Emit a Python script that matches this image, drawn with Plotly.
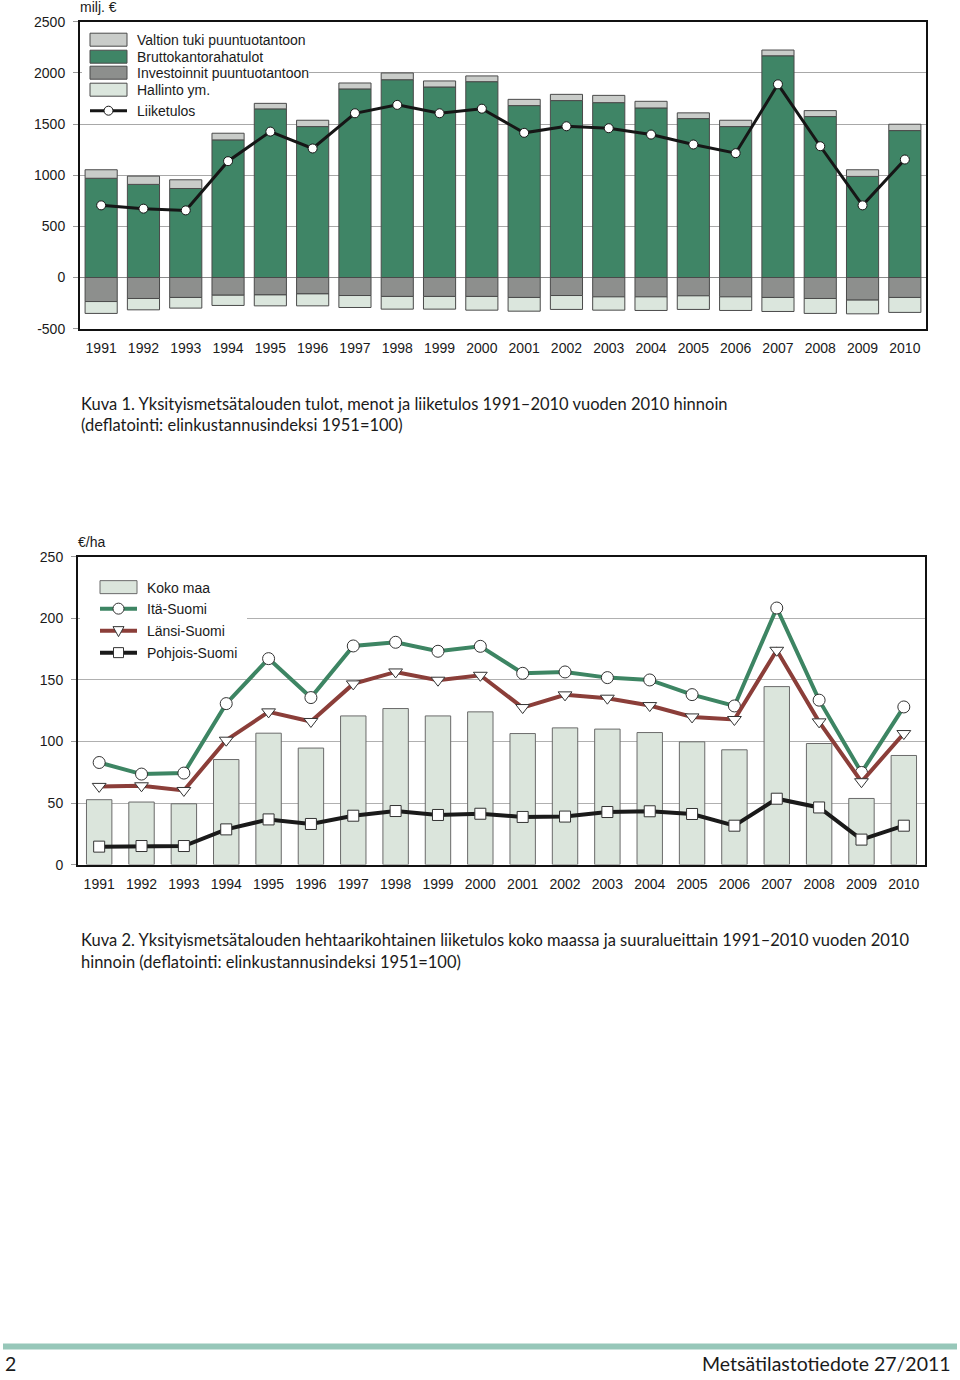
import plotly.graph_objects as go

# ---------------- data ----------------
years = [str(y) for y in range(1991, 2011)]

# Kuva 1 (milj. €)
valtion_tuki = [83, 81, 85, 65, 54, 62, 58, 66, 59, 56, 61, 61, 71, 65, 56, 62, 56, 58, 65, 62]
brutto = [970, 910, 870, 1345, 1648, 1475, 1843, 1933, 1862, 1914, 1680, 1729, 1709, 1657, 1553, 1475, 2167, 1573, 988, 1436]
investoinnit = [-235, -205, -195, -173, -170, -160, -176, -185, -185, -185, -195, -176, -189, -189, -179, -189, -195, -205, -221, -195]
hallinto = [-116, -111, -104, -100, -107, -117, -117, -124, -124, -134, -134, -136, -130, -133, -133, -133, -137, -146, -134, -146]
liiketulos = [705, 673, 656, 1137, 1426, 1261, 1605, 1687, 1605, 1650, 1414, 1478, 1459, 1397, 1300, 1215, 1888, 1283, 705, 1153]
y1_ticks = [-500, 0, 500, 1000, 1500, 2000, 2500]
y1_ticktext = ["-500", "0", "500", "1000", "1500", "2000", "2500"]

# Kuva 2 (€/ha)
koko_maa = [52.7, 50.8, 49.4, 85.3, 106.7, 94.6, 120.7, 126.7, 120.7, 124.0, 106.4, 111.0, 110.0, 107.2, 99.7, 93.2, 144.5, 98.3, 53.7, 88.6]
ita_suomi = [82.9, 73.5, 74.3, 130.7, 167.2, 135.6, 177.5, 180.5, 173.2, 177.2, 155.3, 156.4, 151.8, 149.9, 138.0, 128.8, 208.3, 133.5, 74.8, 128.0]
lansi_suomi = [63.5, 64.0, 60.2, 101.0, 124.0, 116.2, 146.7, 156.4, 149.7, 153.7, 127.5, 137.8, 135.1, 129.1, 119.9, 117.8, 174.0, 115.9, 67.3, 106.4]
pohjois_suomi = [14.6, 15.1, 15.1, 28.6, 36.7, 33.0, 39.7, 43.5, 40.3, 41.3, 38.7, 39.0, 42.7, 43.3, 41.1, 31.6, 53.5, 46.4, 20.3, 31.6]
y2_ticks = [0, 50, 100, 150, 200, 250]

legend1 = ["Valtion tuki puuntuotantoon", "Bruttokantorahatulot", "Investoinnit puuntuotantoon", "Hallinto ym.", "Liiketulos"]
legend2 = ["Koko maa", "Itä-Suomi", "Länsi-Suomi", "Pohjois-Suomi"]

# ---------------- styles ----------------
W, H = 960, 1380
SANS = "Liberation Sans, Arial, sans-serif"
HUMAN = "Lato, Open Sans, sans-serif"
C_TUKI = "#c9ccc9"
C_BRUTTO = "#3f8566"
C_INV = "#8d8f8d"
C_HALL = "#dbe6dd"
C_OUT = "#4a4a4a"
C_KOKO = "#dbe5dc"
C_ITA = "#3d8563"
C_LANSI = "#8b3e39"
C_POHJ = "#1a1a1a"
TICK_SIZE = 14
LEG_SIZE = 14

# vertical correction for the capture (observed: shown_y ~= 7.3 + 0.9885 * page_y)
V_OFF, V_SCALE = 7.3, 0.9885

# plot boxes in reference pixels (left, right, top, bottom)
BOX1 = (80, 926, 21, 328)
BOX2 = (78, 925, 556, 864)


def px(x):
    return x / W


def py(y):
    yy = (y - V_OFF) / V_SCALE
    return 1 - yy / H


fig = go.Figure()

# ---- chart 1 ----
bar_line = dict(color=C_OUT, width=1)
fig.add_trace(go.Bar(x=years, y=brutto, name=legend1[1], marker=dict(color=C_BRUTTO, line=bar_line),
                     xaxis="x", yaxis="y", showlegend=False))
fig.add_trace(go.Bar(x=years, y=valtion_tuki, name=legend1[0], marker=dict(color=C_TUKI, line=bar_line),
                     xaxis="x", yaxis="y", showlegend=False))
fig.add_trace(go.Bar(x=years, y=investoinnit, name=legend1[2], marker=dict(color=C_INV, line=bar_line),
                     xaxis="x", yaxis="y", showlegend=False))
fig.add_trace(go.Bar(x=years, y=hallinto, name=legend1[3], marker=dict(color=C_HALL, line=bar_line),
                     xaxis="x", yaxis="y", showlegend=False))
fig.add_trace(go.Scatter(x=years, y=liiketulos, name=legend1[4], mode="lines+markers",
                         line=dict(color="#161616", width=3),
                         marker=dict(symbol="circle", size=9, color="white", line=dict(color="#161616", width=1)),
                         xaxis="x", yaxis="y", showlegend=False))

# ---- chart 2 ----
fig.add_trace(go.Bar(x=years, y=koko_maa, name=legend2[0],
                     marker=dict(color=C_KOKO, line=dict(color="#6a6a6a", width=1)),
                     width=0.6, xaxis="x2", yaxis="y2", showlegend=False))
for vals, nm, col, sym, sz in [
    (ita_suomi, legend2[1], C_ITA, "circle", 12),
    (lansi_suomi, legend2[2], C_LANSI, "triangle-down", 12),
    (pohjois_suomi, legend2[3], C_POHJ, "square", 11),
]:
    fig.add_trace(go.Scatter(x=years, y=vals, name=nm, mode="lines+markers",
                             line=dict(color=col, width=4),
                             marker=dict(symbol=sym, size=sz, color="white", line=dict(color="#333333", width=1)),
                             xaxis="x2", yaxis="y2", showlegend=False))

axis_common = dict(showline=True, linecolor="#111111", linewidth=2, mirror=True,
                   tickfont=dict(family=SANS, size=TICK_SIZE, color="#1a1a1a"))
x_range = [-0.5, len(years) - 0.5]

fig.update_layout(
    width=W, height=H, autosize=False,
    margin=dict(l=0, r=0, t=0, b=0),
    paper_bgcolor="white", plot_bgcolor="white",
    barmode="relative", bargap=0.24,
    showlegend=False,
    xaxis=dict(domain=[px(BOX1[0]), px(BOX1[1])], anchor="y", type="category", range=x_range,
               autorange=False, ticks="", ticklabelstandoff=6, showgrid=False, **axis_common),
    yaxis=dict(domain=[py(BOX1[3]), py(BOX1[2])], anchor="x", range=[-500, 2500], autorange=False,
               tickvals=y1_ticks, ticktext=y1_ticktext, ticks="outside", ticklen=5, tickcolor="#999999",
               ticklabelstandoff=5,
               showgrid=True, gridcolor="#a8a8a8", gridwidth=1,
               zeroline=True, zerolinecolor="#8a8a8a", zerolinewidth=1, **axis_common),
    xaxis2=dict(domain=[px(BOX2[0]), px(BOX2[1])], anchor="y2", type="category", range=x_range,
                autorange=False, ticks="", ticklabelstandoff=6, showgrid=False, **axis_common),
    yaxis2=dict(domain=[py(BOX2[3]), py(BOX2[2])], anchor="x2", range=[0, 250], autorange=False,
                tickvals=y2_ticks, ticks="outside", ticklen=5, tickcolor="#999999",
                ticklabelstandoff=5,
                showgrid=True, gridcolor="#b0b0b0", gridwidth=1, zeroline=False, **axis_common),
)

shapes = []
annots = []
leg_font = dict(family=SANS, size=LEG_SIZE, color="#1a1a1a")

# ---- manual legend, chart 1 (white backing hides gridlines; no data under it) ----
shapes.append(dict(type="rect", xref="paper", yref="paper", x0=px(82), x1=px(309), y0=py(98), y1=py(23),
                   fillcolor="white", line=dict(width=0), layer="above"))
leg1_y = [39, 56, 72, 89]
leg1_cols = [C_TUKI, C_BRUTTO, C_INV, C_HALL]
for yy, col, txt in zip(leg1_y, leg1_cols, legend1[:4]):
    shapes.append(dict(type="rect", xref="paper", yref="paper", x0=px(90), x1=px(127),
                       y0=py(yy + 6.5), y1=py(yy - 6.5), fillcolor=col, line=dict(color=C_OUT, width=1)))
    annots.append(dict(text=txt, xref="paper", yref="paper", x=px(135), y=py(yy), xanchor="left",
                       yanchor="middle", showarrow=False, font=leg_font))
shapes.append(dict(type="line", xref="paper", yref="paper", x0=px(90), x1=px(127), y0=py(110), y1=py(110),
                   line=dict(color="#161616", width=3)))
shapes.append(dict(type="circle", xref="paper", yref="paper", x0=px(104), x1=px(113), y0=py(114.5), y1=py(105.5),
                   fillcolor="white", line=dict(color="#161616", width=1)))
annots.append(dict(text=legend1[4], xref="paper", yref="paper", x=px(135), y=py(110), xanchor="left",
                   yanchor="middle", showarrow=False, font=leg_font))

# ---- manual legend, chart 2 ----
shapes.append(dict(type="rect", xref="paper", yref="paper", x0=px(80), x1=px(247), y0=py(666), y1=py(572),
                   fillcolor="white", line=dict(width=0), layer="above"))
shapes.append(dict(type="rect", xref="paper", yref="paper", x0=px(100), x1=px(137), y0=py(593), y1=py(580),
                   fillcolor=C_KOKO, line=dict(color="#6a6a6a", width=1)))
annots.append(dict(text=legend2[0], xref="paper", yref="paper", x=px(145), y=py(587), xanchor="left",
                   yanchor="middle", showarrow=False, font=leg_font))
leg2_y = [608, 630, 652]
for yy, col, txt, kind in zip(leg2_y, [C_ITA, C_LANSI, C_POHJ], legend2[1:], ["circle", "tri", "square"]):
    shapes.append(dict(type="line", xref="paper", yref="paper", x0=px(100), x1=px(137), y0=py(yy), y1=py(yy),
                       line=dict(color=col, width=4)))
    cx = 118.5
    if kind == "circle":
        shapes.append(dict(type="circle", xref="paper", yref="paper", x0=px(cx - 5.5), x1=px(cx + 5.5),
                           y0=py(yy + 5.5), y1=py(yy - 5.5), fillcolor="white", line=dict(color="#333333", width=1)))
    elif kind == "tri":
        path = "M {:.5f} {:.5f} L {:.5f} {:.5f} L {:.5f} {:.5f} Z".format(
            px(cx - 5.5), py(yy - 4), px(cx + 5.5), py(yy - 4), px(cx), py(yy + 6))
        shapes.append(dict(type="path", xref="paper", yref="paper", path=path,
                           fillcolor="white", line=dict(color="#333333", width=1)))
    else:
        shapes.append(dict(type="rect", xref="paper", yref="paper", x0=px(cx - 5), x1=px(cx + 5),
                           y0=py(yy + 5), y1=py(yy - 5), fillcolor="white", line=dict(color="#333333", width=1)))
    annots.append(dict(text=txt, xref="paper", yref="paper", x=px(145), y=py(yy), xanchor="left",
                       yanchor="middle", showarrow=False, font=leg_font))

# ---- unit labels ----
annots.append(dict(text="milj. €", xref="paper", yref="paper", x=px(78), y=py(13), xanchor="left",
                   yanchor="bottom", yshift=-3, showarrow=False, font=leg_font))
annots.append(dict(text="€/ha", xref="paper", yref="paper", x=px(76), y=py(541), xanchor="left",
                   yanchor="middle", showarrow=False, font=leg_font))

# ---- captions ----
cap_font = dict(family=HUMAN, size=16.5, color="#1a1a1a")
annots.append(dict(text="Kuva 1. Yksityismetsätalouden tulot, menot ja liiketulos 1991–2010 vuoden 2010 hinnoin",
                   xref="paper", yref="paper", x=px(79), y=py(403), xanchor="left", yanchor="middle",
                   showarrow=False, font=cap_font))
annots.append(dict(text="(deflatointi: elinkustannusindeksi 1951=100)",
                   xref="paper", yref="paper", x=px(79), y=py(424), xanchor="left", yanchor="middle",
                   showarrow=False, font=cap_font))
annots.append(dict(text="Kuva 2. Yksityismetsätalouden hehtaarikohtainen liiketulos koko maassa ja suuralueittain 1991–2010 vuoden 2010",
                   xref="paper", yref="paper", x=px(79), y=py(939), xanchor="left", yanchor="middle",
                   showarrow=False, font=cap_font))
annots.append(dict(text="hinnoin (deflatointi: elinkustannusindeksi 1951=100)",
                   xref="paper", yref="paper", x=px(79), y=py(961), xanchor="left", yanchor="middle",
                   showarrow=False, font=cap_font))

# ---- footer ----
shapes.append(dict(type="rect", xref="paper", yref="paper", x0=px(3), x1=px(957), y0=py(1349), y1=py(1343),
                   fillcolor="#97c7b9", line=dict(width=0)))
foot_font = dict(family=HUMAN, size=19.5, color="#1a1a1a")
annots.append(dict(text="2", xref="paper", yref="paper", x=px(3), y=py(1363), xanchor="left", yanchor="middle",
                   showarrow=False, font=foot_font))
annots.append(dict(text="Metsätilastotiedote 27/2011", xref="paper", yref="paper", x=px(953), y=py(1363),
                   xanchor="right", yanchor="middle", showarrow=False, font=foot_font))

fig.update_layout(shapes=shapes, annotations=annots)

pin_js = (
    "document.documentElement.style.margin='0';"
    "document.body.style.margin='0';"
    "document.body.style.overflow='hidden';"
    "var gd=document.getElementById('{plot_id}');"
    "gd.style.position='fixed';gd.style.left='0px';gd.style.top='0px';"
)
fig.write_html("out.html", config={"displayModeBar": False}, post_script=pin_js)
